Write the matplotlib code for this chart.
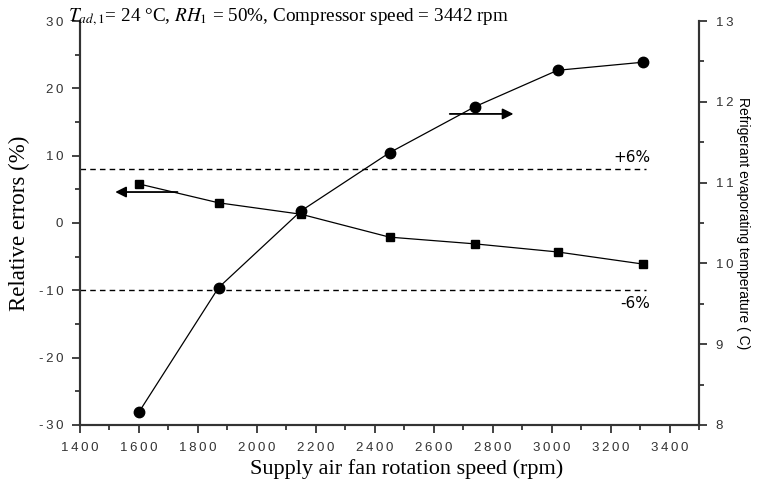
import matplotlib.pyplot as plt
from matplotlib.ticker import MultipleLocator, FuncFormatter

plt.rcParams['axes.unicode_minus'] = False

# Messwerte
fan_speed = [1600, 1870, 2150, 2450, 2740, 3020, 3310]
rel_error = [5.8, 3.0, 1.3, -2.1, -3.1, -4.3, -6.1]
evap_temp = [8.16, 9.70, 10.65, 11.37, 11.94, 12.39, 12.49]

# Fehlergrenzen
upper_limit = 8
lower_limit = -10
limit_end = 3320


def spaced(v, pos):
    # Ziffern mit etwas Abstand
    return '\u2009'.join('%g' % v)


fig = plt.figure(figsize=(7.57, 4.92), dpi=100)
ax = fig.add_axes([0.1057, 0.1362, 0.8177, 0.8211])
ax2 = ax.twinx()

ax.plot(fan_speed, rel_error, color='black', lw=0.9, marker='s', markersize=6)
ax2.plot(fan_speed, evap_temp, color='black', lw=0.9, marker='o', markersize=7.5)

ax.plot([1400, limit_end], [upper_limit, upper_limit], color='black', lw=1, ls=(0, (4, 3)))
ax.plot([1400, limit_end], [lower_limit, lower_limit], color='black', lw=1, ls=(0, (4, 3)))
ax.text(limit_end + 15, 9.7, '+6%', ha='right', va='center', fontsize=11,
        family='DejaVu Sans')
ax.text(limit_end + 15, -11.9, '-6%', ha='right', va='center', fontsize=11,
        family='DejaVu Sans')

# Pfeile zur Zuordnung der Achsen
ax.annotate('', xy=(1510, 4.6), xytext=(1740, 4.6),
            arrowprops=dict(arrowstyle='-|>', color='black', lw=1.3, mutation_scale=16))
ax.annotate('', xy=(2880, 16.2), xytext=(2645, 16.2),
            arrowprops=dict(arrowstyle='-|>', color='black', lw=1.3, mutation_scale=16))

ax.set_xlim(1400, 3500)
ax.set_ylim(-30, 30)
ax2.set_ylim(8, 13)

ax.xaxis.set_major_locator(MultipleLocator(200))
ax.xaxis.set_minor_locator(MultipleLocator(100))
ax.yaxis.set_major_locator(MultipleLocator(10))
ax.yaxis.set_minor_locator(MultipleLocator(5))
ax2.yaxis.set_major_locator(MultipleLocator(1))
ax2.yaxis.set_minor_locator(MultipleLocator(0.5))

ax.xaxis.set_major_formatter(FuncFormatter(spaced))
ax.yaxis.set_major_formatter(FuncFormatter(spaced))
ax2.yaxis.set_major_formatter(FuncFormatter(spaced))

for a in (ax, ax2):
    a.spines['top'].set_visible(False)
    a.tick_params(which='major', direction='out', length=6, width=1.2, labelsize=9.5,
                  pad=6, colors='#222222', labelcolor='#333333')
    a.tick_params(which='minor', direction='out', length=3.5, width=1.2, colors='#222222')
    for s in a.spines.values():
        s.set_linewidth(1.5)
        s.set_color('#333333')

for lbl in ax.get_xticklabels() + ax.get_yticklabels() + ax2.get_yticklabels():
    lbl.set_family('Liberation Sans')

ax.set_xlabel('Supply air fan rotation speed (rpm)', family='Liberation Serif',
              fontsize=16, labelpad=3)
ax.xaxis.set_label_coords(0.528, -0.085)
ax.set_ylabel('Relative errors (%)', family='Liberation Serif', fontsize=16.5, labelpad=6)
ax2.set_ylabel('Refrigerant evaporating temperature ( C)', family='Liberation Sans',
               fontsize=10, rotation=270, labelpad=12)

fig.text(0.09, 0.964,
         r'$T_{ad,1}$= 24 °C, $RH_1$ = 50%, Compressor speed = 3442 rpm',
         family='Liberation Serif', fontsize=13.8, va='center', ha='left',
         math_fontfamily='stix')

fig.savefig('out.png', dpi=100)
